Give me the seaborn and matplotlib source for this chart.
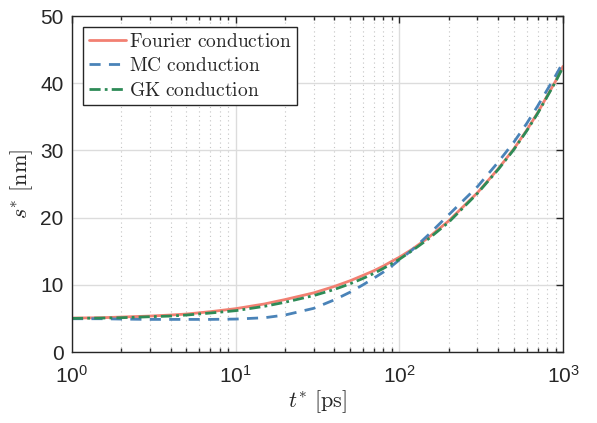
import numpy as np
import pandas as pd
import seaborn as sns
import matplotlib
matplotlib.use("Agg")
import matplotlib.pyplot as plt
from matplotlib.font_manager import FontProperties
from matplotlib.ticker import FixedLocator, LogLocator, NullFormatter, FuncFormatter

# ---- data ----
t_ps = [1, 1.5, 2, 3, 4, 5, 7, 10, 15, 20, 30, 40, 50, 60, 70, 80, 90, 100,
        120, 150, 200, 300, 400, 500, 600, 700, 800, 900, 1000]
s_fourier = [5.05, 5.1, 5.2, 5.35, 5.5, 5.65, 6.0, 6.45, 7.15, 7.8, 8.8, 9.75, 10.6, 11.4, 12.1, 12.8, 13.5, 14.1,
             15.3, 17.0, 19.5, 23.7, 27.2, 30.2, 33.0, 35.6, 38.1, 40.3, 42.5]
s_mc = [4.95, 4.95, 4.9, 4.85, 4.85, 4.85, 4.85, 4.9, 5.1, 5.5, 6.5, 7.75, 8.9, 10.0, 11.0, 11.9, 12.8, 13.7,
        15.2, 17.4, 20.4, 24.6, 28.2, 31.2, 34.0, 36.6, 39.0, 41.1, 43.1]
s_gk = [5.0, 5.05, 5.1, 5.25, 5.35, 5.5, 5.8, 6.15, 6.8, 7.4, 8.4, 9.3, 10.15, 10.95, 11.7, 12.45, 13.15, 13.8,
        15.1, 16.8, 19.3, 23.6, 27.1, 30.1, 32.9, 35.5, 38.0, 40.2, 42.4]
series_names = ["Fourier conduction", "MC conduction", "GK conduction"]
y_ticks = [0, 10, 20, 30, 40, 50]
x_decades = [0, 1, 2, 3]

sns.set_theme(style="white")
plt.rcParams["font.family"] = ["Liberation Sans", "DejaVu Sans"]
plt.rcParams["mathtext.fontset"] = "custom"
plt.rcParams["mathtext.rm"] = "Liberation Sans"
plt.rcParams["mathtext.it"] = "Liberation Sans:italic"

fig = plt.figure(figsize=(5.97, 4.23), dpi=100)
ax = fig.add_axes([72 / 597, 71 / 423, (563 - 72) / 597, (352 - 16) / 423])

colors = ["#F28072", "#4A83B8", "#2E8B57"]
styles = ["-", (0, (4, 3)), (0, (4, 1.5, 1, 1.5))]
for name, vals, c, ls in zip(series_names, [s_fourier, s_mc, s_gk], colors, styles):
    df = pd.DataFrame({"t": t_ps, "s": vals})
    sns.lineplot(data=df, x="t", y="s", ax=ax, color=c, linewidth=2.0,
                 label=r"$\mathrm{" + name.replace(" ", r"\ ") + "}$")
    ax.lines[-1].set_linestyle(ls)

ax.set_xscale("log")
ax.set_xlim(1, 1000)
ax.set_ylim(0, 50)
ax.set_yticks(y_ticks)
ax.xaxis.set_major_locator(FixedLocator([10 ** d for d in x_decades]))
ax.xaxis.set_minor_locator(LogLocator(base=10, subs=np.arange(2, 10)))
ax.xaxis.set_minor_formatter(NullFormatter())
ax.xaxis.set_major_formatter(FuncFormatter(lambda v, p: r"$10^{%d}$" % int(round(np.log10(v)))))

ax.grid(True, which="major", axis="both", color="#dcdcdc", linewidth=1.0, linestyle="-")
ax.grid(True, which="minor", axis="x", color="#c4c4c4", linewidth=0.8, linestyle=(0, (1, 3)))
ax.set_axisbelow(True)

ax.tick_params(axis="both", which="major", direction="in", length=5, width=1.0,
               labelsize=15, colors="#262626", top=True, right=True)
ax.tick_params(axis="x", which="major", pad=9)
ax.tick_params(axis="y", which="major", pad=6)
ax.tick_params(axis="x", which="minor", direction="in", length=3, top=True, bottom=True, colors="#262626")
for sp in ax.spines.values():
    sp.set_color("#262626")
    sp.set_linewidth(1.0)

cm = FontProperties(size=16, math_fontfamily="cm")
ax.set_xlabel(r"$t^{*}\ \mathrm{[ps]}$", fontproperties=cm, color="#262626", labelpad=1)
ax.set_ylabel(r"$s^{*}\ \mathrm{[nm]}$", fontproperties=cm, color="#262626", labelpad=4)

leg = ax.legend(loc="upper left", prop=FontProperties(size=14, math_fontfamily="cm"),
                frameon=True, fancybox=False, edgecolor="#262626", framealpha=1,
                borderpad=0.3, handlelength=1.9, handletextpad=0.15, labelspacing=0.33,
                borderaxespad=0.0, bbox_to_anchor=(11 / 491, 1 - 11 / 336))
leg.get_frame().set_linewidth(1.0)

fig.savefig("out.png", dpi=100)
